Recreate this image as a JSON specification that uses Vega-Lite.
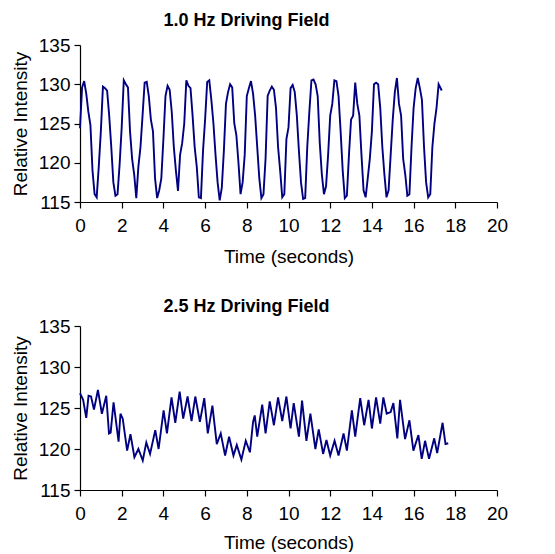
{
"$schema": "https://vega.github.io/schema/vega-lite/v6.json",
"padding": {"left": 11, "top": 12, "right": 0, "bottom": 0},
"config": {
  "font": "Liberation Sans",
  "view": {"stroke": null},
  "axis": {"grid": false, "domainColor": "#000", "tickColor": "#000", "labelColor": "#000", "titleColor": "#000", "labelFont": "Liberation Sans", "titleFont": "Liberation Sans", "labelFontSize": 19, "titleFontSize": 19, "titleFontWeight": "normal", "tickSize": 6, "domainWidth": 1.2, "tickWidth": 1.2},
  "axisX": {"labelFlush": false, "labelPadding": 8, "titlePadding": 12},
  "axisY": {"labelPadding": 4, "titlePadding": 8},
  "title": {"fontSize": 18, "fontWeight": "bold", "font": "Liberation Sans", "color": "#000", "anchor": "middle"}
},
"datasets": {
"hz1": [
{"t":0.0,"v":124.4},{"t":0.1,"v":129.6},{"t":0.2,"v":130.4},{"t":0.3,"v":128.8},{"t":0.4,"v":126.5},{"t":0.5,"v":124.8},{"t":0.6,"v":119.0},{"t":0.7,"v":116.0},{"t":0.8,"v":115.6},{"t":0.9,"v":119.5},
{"t":1.0,"v":124.0},{"t":1.1,"v":129.7},{"t":1.2,"v":129.5},{"t":1.3,"v":129.2},{"t":1.4,"v":126.0},{"t":1.5,"v":122.0},{"t":1.6,"v":117.5},{"t":1.7,"v":115.8},{"t":1.8,"v":116.0},{"t":1.9,"v":119.8},
{"t":2.0,"v":124.5},{"t":2.1,"v":130.5},{"t":2.2,"v":130.0},{"t":2.3,"v":129.6},{"t":2.4,"v":124.0},{"t":2.5,"v":120.5},{"t":2.6,"v":118.5},{"t":2.7,"v":115.5},{"t":2.8,"v":119.5},{"t":2.9,"v":122.0},
{"t":3.0,"v":126.0},{"t":3.1,"v":130.2},{"t":3.2,"v":130.3},{"t":3.3,"v":128.5},{"t":3.4,"v":125.5},{"t":3.5,"v":124.0},{"t":3.6,"v":118.0},{"t":3.7,"v":115.5},{"t":3.8,"v":116.5},{"t":3.9,"v":118.0},
{"t":4.0,"v":123.0},{"t":4.1,"v":128.5},{"t":4.2,"v":129.8},{"t":4.3,"v":129.3},{"t":4.4,"v":126.5},{"t":4.5,"v":122.0},{"t":4.6,"v":119.0},{"t":4.7,"v":116.4},{"t":4.8,"v":121.0},{"t":4.9,"v":122.5},
{"t":5.0,"v":125.0},{"t":5.1,"v":130.5},{"t":5.2,"v":129.8},{"t":5.3,"v":129.5},{"t":5.4,"v":126.0},{"t":5.5,"v":122.0},{"t":5.6,"v":119.5},{"t":5.7,"v":115.6},{"t":5.8,"v":115.5},{"t":5.9,"v":121.5},
{"t":6.0,"v":125.5},{"t":6.1,"v":130.3},{"t":6.2,"v":130.5},{"t":6.3,"v":128.0},{"t":6.4,"v":125.0},{"t":6.5,"v":121.0},{"t":6.6,"v":117.5},{"t":6.7,"v":115.2},{"t":6.8,"v":116.8},{"t":6.9,"v":121.5},
{"t":7.0,"v":127.5},{"t":7.1,"v":129.0},{"t":7.2,"v":130.0},{"t":7.3,"v":129.6},{"t":7.4,"v":125.0},{"t":7.5,"v":123.5},{"t":7.6,"v":120.0},{"t":7.7,"v":116.0},{"t":7.8,"v":117.5},{"t":7.9,"v":121.0},
{"t":8.0,"v":128.5},{"t":8.1,"v":129.5},{"t":8.2,"v":130.4},{"t":8.3,"v":128.8},{"t":8.4,"v":126.0},{"t":8.5,"v":122.0},{"t":8.6,"v":118.0},{"t":8.7,"v":115.5},{"t":8.8,"v":116.0},{"t":8.9,"v":120.5},
{"t":9.0,"v":128.5},{"t":9.1,"v":129.2},{"t":9.2,"v":129.7},{"t":9.3,"v":129.3},{"t":9.4,"v":127.0},{"t":9.5,"v":122.0},{"t":9.6,"v":119.0},{"t":9.7,"v":115.6},{"t":9.8,"v":116.0},{"t":9.9,"v":123.0},
{"t":10.0,"v":124.5},{"t":10.1,"v":129.5},{"t":10.2,"v":129.9},{"t":10.3,"v":129.0},{"t":10.4,"v":126.0},{"t":10.5,"v":121.5},{"t":10.6,"v":117.5},{"t":10.7,"v":115.4},{"t":10.8,"v":115.5},{"t":10.9,"v":122.0},
{"t":11.0,"v":126.5},{"t":11.1,"v":130.5},{"t":11.2,"v":130.6},{"t":11.3,"v":130.0},{"t":11.4,"v":128.5},{"t":11.5,"v":122.5},{"t":11.6,"v":118.5},{"t":11.7,"v":116.0},{"t":11.8,"v":117.0},{"t":11.9,"v":121.0},
{"t":12.0,"v":126.0},{"t":12.1,"v":127.5},{"t":12.2,"v":130.5},{"t":12.3,"v":130.4},{"t":12.4,"v":128.5},{"t":12.5,"v":124.0},{"t":12.6,"v":119.0},{"t":12.7,"v":115.5},{"t":12.8,"v":115.8},{"t":12.9,"v":121.0},
{"t":13.0,"v":125.5},{"t":13.1,"v":126.0},{"t":13.2,"v":130.2},{"t":13.3,"v":127.5},{"t":13.4,"v":126.0},{"t":13.5,"v":121.0},{"t":13.6,"v":116.5},{"t":13.7,"v":115.6},{"t":13.8,"v":118.0},{"t":13.9,"v":120.5},
{"t":14.0,"v":124.0},{"t":14.1,"v":130.0},{"t":14.2,"v":130.2},{"t":14.3,"v":130.0},{"t":14.4,"v":127.0},{"t":14.5,"v":122.0},{"t":14.6,"v":118.5},{"t":14.7,"v":115.6},{"t":14.8,"v":116.5},{"t":14.9,"v":121.0},
{"t":15.0,"v":125.5},{"t":15.1,"v":129.0},{"t":15.2,"v":130.8},{"t":15.3,"v":127.5},{"t":15.4,"v":126.0},{"t":15.5,"v":120.5},{"t":15.6,"v":118.5},{"t":15.7,"v":115.8},{"t":15.8,"v":116.0},{"t":15.9,"v":122.0},
{"t":16.0,"v":127.0},{"t":16.1,"v":129.5},{"t":16.2,"v":130.8},{"t":16.3,"v":129.5},{"t":16.4,"v":128.0},{"t":16.5,"v":122.0},{"t":16.6,"v":117.5},{"t":16.7,"v":115.6},{"t":16.8,"v":116.0},{"t":16.9,"v":122.0},
{"t":17.0,"v":125.0},{"t":17.1,"v":127.0},{"t":17.2,"v":130.0},{"t":17.35,"v":129.2}
],
"hz25": [
{"t":0.0,"v":126.8},{"t":0.15,"v":126.0},{"t":0.3,"v":123.8},{"t":0.41,"v":126.5},{"t":0.53,"v":126.4},{"t":0.67,"v":124.8},{"t":0.86,"v":127.2},{"t":1.05,"v":124.3},{"t":1.26,"v":126.5},{"t":1.39,"v":121.9},
{"t":1.47,"v":122.0},{"t":1.61,"v":125.7},{"t":1.85,"v":120.9},{"t":1.94,"v":124.3},{"t":2.05,"v":123.7},{"t":2.26,"v":119.8},{"t":2.42,"v":121.8},{"t":2.61,"v":119.0},{"t":2.8,"v":120.0},{"t":3.01,"v":118.6},
{"t":3.18,"v":120.8},{"t":3.36,"v":119.4},{"t":3.61,"v":122.3},{"t":3.77,"v":120.0},{"t":4.01,"v":124.7},{"t":4.17,"v":121.9},{"t":4.39,"v":126.3},{"t":4.57,"v":123.2},{"t":4.78,"v":127.0},{"t":4.95,"v":123.7},
{"t":5.16,"v":126.4},{"t":5.35,"v":123.4},{"t":5.53,"v":126.4},{"t":5.75,"v":123.3},{"t":5.96,"v":126.2},{"t":6.13,"v":121.9},{"t":6.35,"v":125.3},{"t":6.56,"v":120.6},{"t":6.75,"v":121.9},{"t":6.96,"v":119.2},
{"t":7.15,"v":121.5},{"t":7.36,"v":119.2},{"t":7.52,"v":120.5},{"t":7.74,"v":118.7},{"t":7.95,"v":121.0},{"t":8.15,"v":119.6},{"t":8.3,"v":123.3},{"t":8.38,"v":124.1},{"t":8.5,"v":121.5},{"t":8.74,"v":125.4},
{"t":8.9,"v":121.9},{"t":9.1,"v":125.8},{"t":9.3,"v":122.9},{"t":9.5,"v":126.3},{"t":9.7,"v":123.4},{"t":9.9,"v":126.4},{"t":10.1,"v":122.5},{"t":10.25,"v":125.6},{"t":10.5,"v":121.5},{"t":10.65,"v":125.9},
{"t":10.86,"v":121.0},{"t":11.05,"v":124.3},{"t":11.29,"v":120.0},{"t":11.45,"v":122.4},{"t":11.66,"v":119.4},{"t":11.82,"v":121.1},{"t":12.0,"v":119.2},{"t":12.21,"v":121.0},{"t":12.4,"v":119.2},{"t":12.64,"v":121.9},
{"t":12.8,"v":119.8},{"t":13.04,"v":124.7},{"t":13.2,"v":121.5},{"t":13.44,"v":126.2},{"t":13.63,"v":122.9},{"t":13.84,"v":126.0},{"t":14.0,"v":122.5},{"t":14.2,"v":126.3},{"t":14.4,"v":123.1},{"t":14.55,"v":126.3},
{"t":14.71,"v":124.3},{"t":14.9,"v":124.5},{"t":15.03,"v":125.6},{"t":15.22,"v":121.3},{"t":15.35,"v":126.0},{"t":15.59,"v":121.2},{"t":15.8,"v":123.5},{"t":15.99,"v":119.8},{"t":16.23,"v":121.7},{"t":16.39,"v":118.8},
{"t":16.55,"v":121.0},{"t":16.74,"v":118.8},{"t":16.99,"v":121.3},{"t":17.13,"v":119.5},{"t":17.39,"v":123.2},{"t":17.53,"v":120.6},{"t":17.66,"v":120.7}
]
},
"spacing": 32,
"vconcat": [
{
  "title": {"text": "1.0 Hz Driving Field", "dx": -42, "offset": 6},
  "width": 417, "height": 157,
  "data": {"name": "hz1"},
  "mark": {"type": "line", "color": "#000080", "strokeWidth": 1.9},
  "encoding": {
    "x": {"field": "t", "type": "quantitative", "scale": {"domain": [0, 20], "nice": false}, "axis": {"values": [0,2,4,6,8,10,12,14,16,18,20], "title": "Time (seconds)"}},
    "y": {"field": "v", "type": "quantitative", "scale": {"domain": [115, 135], "nice": false, "zero": false}, "axis": {"values": [115,120,125,130,135], "title": "Relative Intensity"}}
  }
},
{
  "title": {"text": "2.5 Hz Driving Field", "dx": -42, "offset": 1},
  "width": 417, "height": 164,
  "data": {"name": "hz25"},
  "mark": {"type": "line", "color": "#000080", "strokeWidth": 1.9},
  "encoding": {
    "x": {"field": "t", "type": "quantitative", "scale": {"domain": [0, 20], "nice": false}, "axis": {"values": [0,2,4,6,8,10,12,14,16,18,20], "title": "Time (seconds)", "titlePadding": 10}},
    "y": {"field": "v", "type": "quantitative", "scale": {"domain": [115, 135], "nice": false, "zero": false}, "axis": {"values": [115,120,125,130,135], "title": "Relative Intensity"}}
  }
}
]
}
